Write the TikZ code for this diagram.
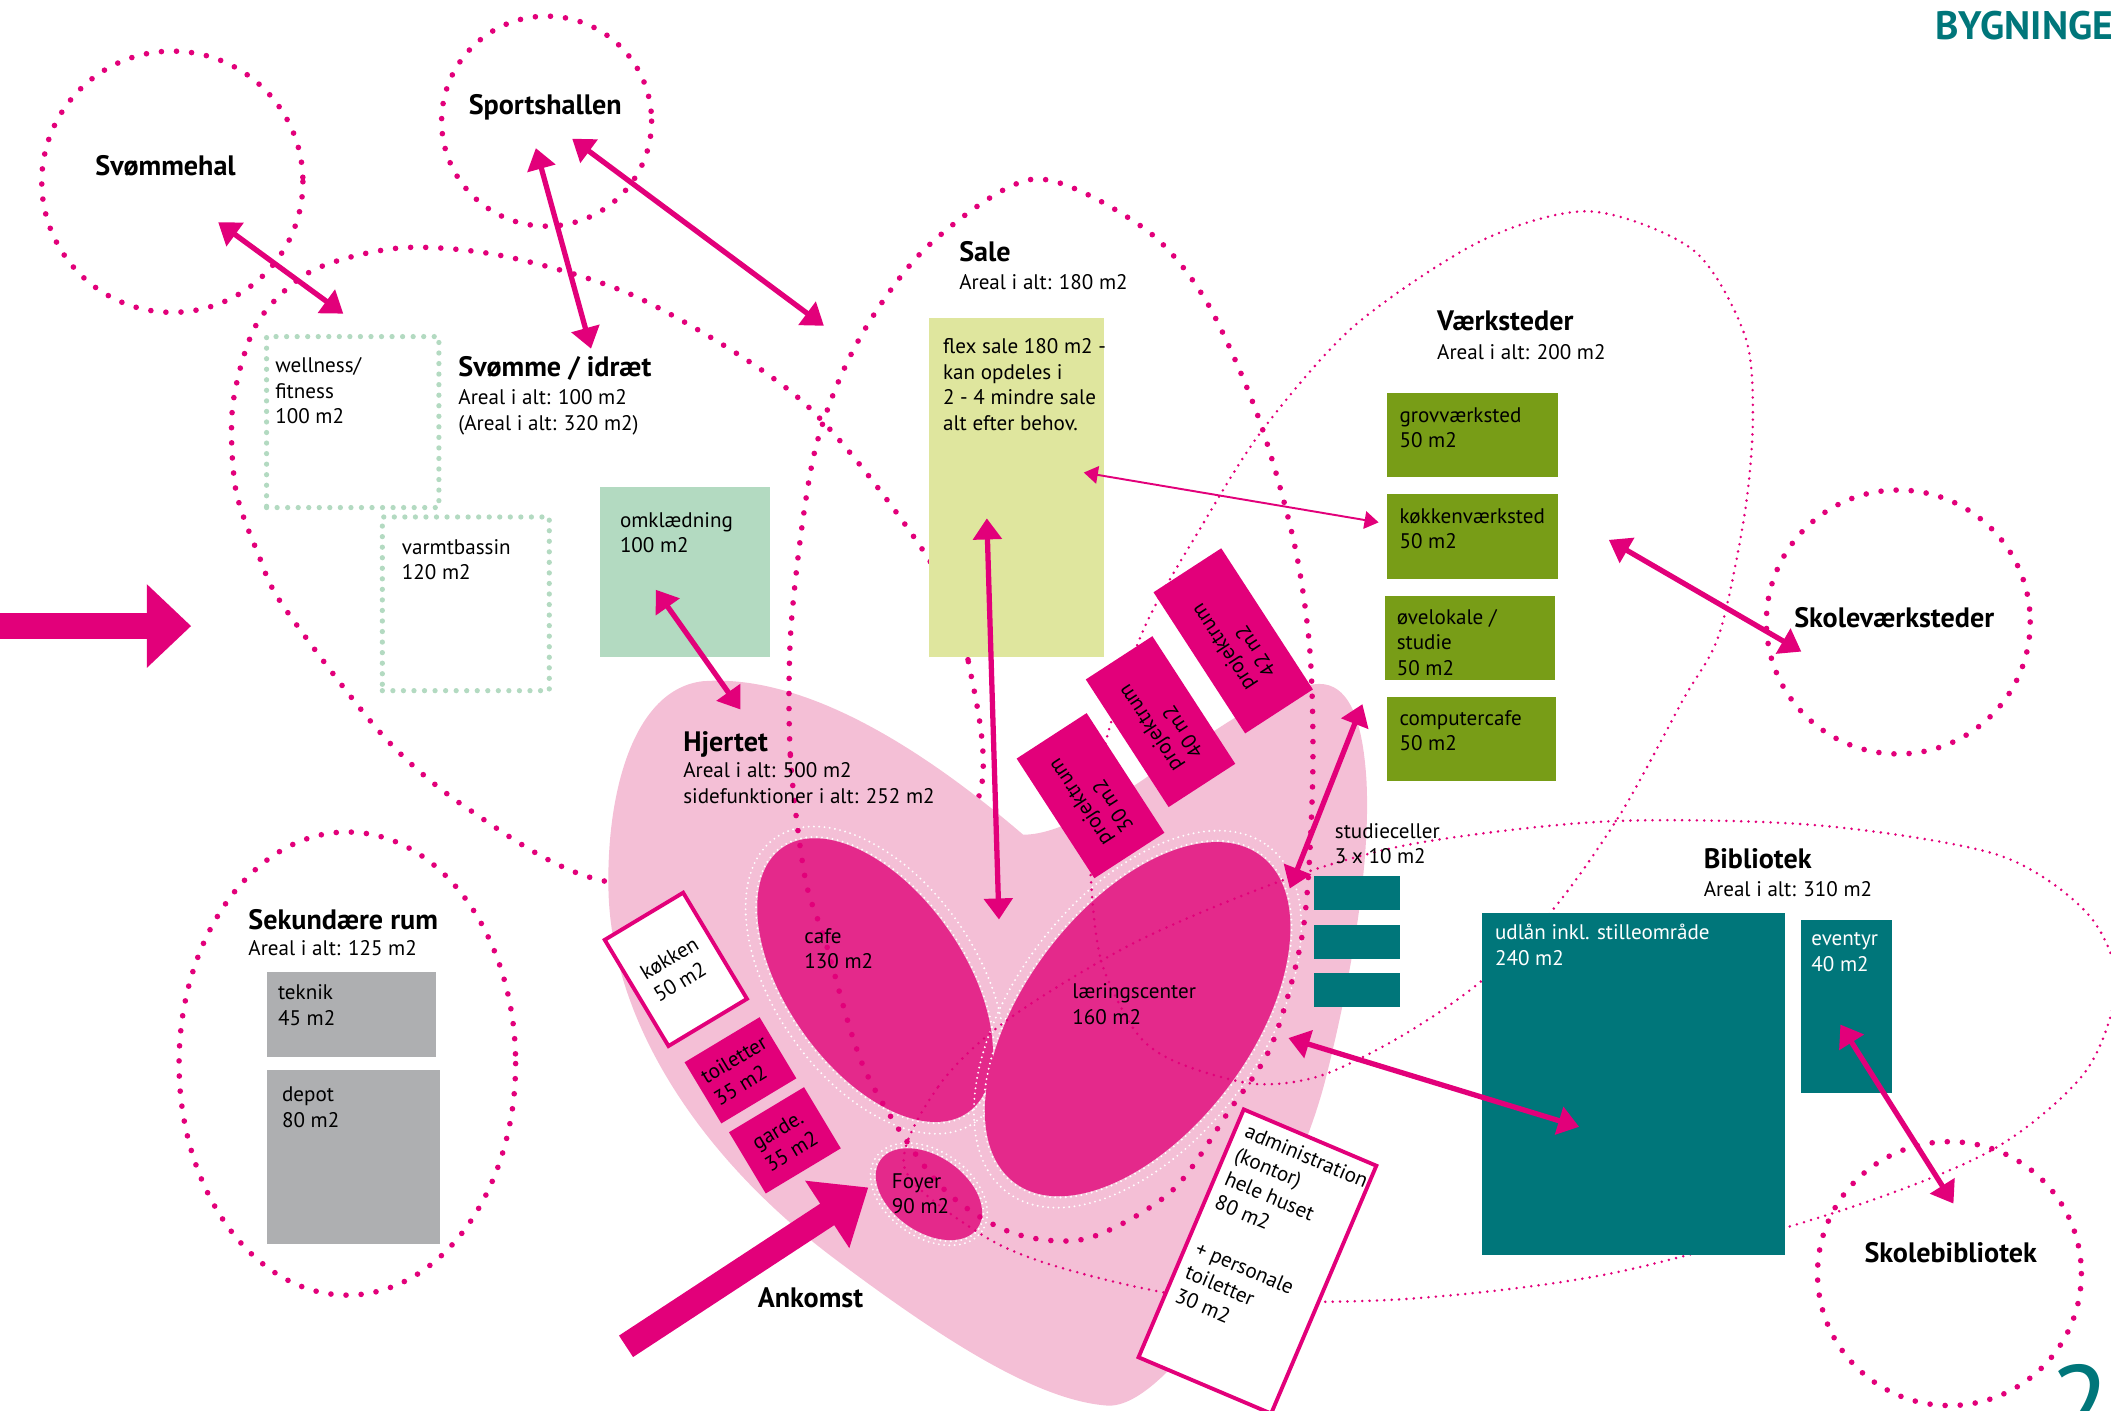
\documentclass[tikz,border=0pt]{standalone}
\usepackage{fontspec}
\setmainfont{PT Sans}
\usetikzlibrary{arrows.meta}

\definecolor{mag}{HTML}{E2007A}
\definecolor{heartpink}{HTML}{F4BFD6}
\definecolor{lobe}{HTML}{E4298B}
\definecolor{petrol}{HTML}{00767A}
\definecolor{moss}{HTML}{789D17}
\definecolor{sage}{HTML}{B3DAC1}
\definecolor{lime}{HTML}{DFE69E}
\definecolor{stone}{HTML}{AEAFB1}

\newcommand\txtsmall{\fontsize{6}{7.3}\selectfont}
\newcommand\txthead{\fontsize{8}{9.6}\selectfont\bfseries}
\newcommand\unitpx{0.13463mm}

\tikzset{
  bigdots/.style={draw=mag, line width=1.6pt, line cap=round, dash pattern=on 0pt off 4.3pt},
  smalldots/.style={draw=mag, line width=0.8pt, line cap=round, dash pattern=on 0pt off 2.1pt},
  whitedots/.style={draw=white, line width=0.6pt, line cap=round, dash pattern=on 0pt off 1.5pt},
  greendots/.style={draw=sage, line width=1.5pt, line cap=round, dash pattern=on 0pt off 3pt},
  room/.style={anchor=north west, inner sep=0pt, outer sep=0pt},
  slab/.style={inner sep=0pt, outer sep=0pt, align=left, font=\txtsmall},
  txt/.style={anchor=north west, inner sep=0pt, align=left, font=\txtsmall},
  head/.style={anchor=north west, inner sep=0pt, font=\txthead},
  place/.style={anchor=base, inner sep=0pt, font=\txthead},
  link/.style={draw=mag, line width=1.5pt, arrows={Triangle[length=6pt,width=8pt]-Triangle[length=6pt,width=8pt]}},
  thinlink/.style={draw=mag, line width=0.55pt, arrows={Triangle[length=4pt,width=5pt]-Triangle[length=4pt,width=5pt]}}
}

\begin{document}
\begin{tikzpicture}[x=\unitpx, y=-\unitpx]
  \useasboundingbox (0,0) rectangle (1568,1048);

  % zones behind the heart
  \draw[bigdots] plot[smooth cycle] coordinates {
    (723,600) (719,490) (689,414) (597,299) (478,223) (378,191) (299,184)
    (232,201) (191,240) (173,300) (175,363) (192,412) (211,451) (285,547)
    (348,601) (443,653) (600,665)};
  \draw[bigdots] (128,135) circle [radius=97];
  \draw[bigdots] (406,90) circle [radius=78];
  \draw[bigdots] (1410,462) circle [radius=98];
  \draw[bigdots] (1448,946) circle [radius=98];
  \draw[bigdots] (258,790) ellipse [x radius=125, y radius=172];

  % the heart
  \fill[heartpink] (760,620)
    .. controls (690,560) and (600,500) .. (522,506)
    .. controls (470,512) and (450,590) .. (452,663)
    .. controls (455,760) and (520,860) .. (620,935)
    .. controls (700,995) and (770,1040) .. (822,1044)
    .. controls (870,1048) and (960,900) .. (985,800)
    .. controls (1005,720) and (1018,640) .. (1015,580)
    .. controls (1012,530) and (1000,508) .. (980,508)
    .. controls (920,510) and (820,620) .. (760,620) -- cycle;

  \fill[lobe, rotate around={-55:(650,728)}] (650,728) ellipse [x radius=120, y radius=66];
  \draw[whitedots, rotate around={-55:(650,728)}] (650,728) ellipse [x radius=121, y radius=67];
  \draw[whitedots, rotate around={-55:(650,728)}] (650,728) ellipse [x radius=129, y radius=75];
  \fill[lobe, rotate around={53:(845,757)}] (845,757) ellipse [x radius=152, y radius=84];
  \draw[whitedots, rotate around={53:(845,757)}] (845,757) ellipse [x radius=153, y radius=85];
  \draw[whitedots, rotate around={53:(845,757)}] (845,757) ellipse [x radius=161, y radius=92];
  \fill[lobe, rotate around={-35:(690,887)}] (690,887) ellipse [x radius=44, y radius=28];
  \draw[whitedots, rotate around={-35:(690,887)}] (690,887) ellipse [x radius=45, y radius=29];
  \draw[whitedots, rotate around={-35:(690,887)}] (690,887) ellipse [x radius=48, y radius=32];

  % zones over the heart
  \draw[bigdots] plot[smooth cycle] coordinates {
    (598,652) (587,560) (588,460) (605,336) (637,254) (689,183) (768,133)
    (849,169) (895,222) (934,308) (961,402) (973,484) (975,580) (968,690)
    (945,775) (913,825) (870,885) (807,920) (750,915) (697,879) (643,796)
    (613,699)};
  \draw[smalldots] plot[smooth cycle] coordinates {
    (810,648) (818,714) (844,767) (874,789) (931,805) (981,799) (1042,769)
    (1100,729) (1154,675) (1204,604) (1250,520) (1277,471) (1296,381)
    (1302,310) (1296,249) (1258,186) (1181,157) (1100,179) (1006,242)
    (938,319) (893,390) (851,464) (824,541) (812,600)};
  \draw[smalldots] plot[smooth cycle] coordinates {
    (672,868) (697,807) (749,757) (845,699) (958,652) (1054,626) (1196,610)
    (1350,613) (1484,635) (1550,678) (1572,730) (1549,796) (1480,854)
    (1365,900) (1196,946) (1042,965) (900,965) (800,945) (734,920)};

  % rooms
  \node[room, greendots, minimum width=128*\unitpx, minimum height=127*\unitpx] (wellness) at (198,250) {};
  \node[room, greendots, minimum width=124*\unitpx, minimum height=129*\unitpx] (varmt) at (284,384) {};
  \node[room, fill=sage, minimum width=126*\unitpx, minimum height=126*\unitpx] (omkl) at (446,362) {};
  \node[room, fill=lime, minimum width=130*\unitpx, minimum height=252*\unitpx] (flex) at (690,236) {};
  \node[room, fill=moss, minimum width=127*\unitpx, minimum height=62*\unitpx] (grov) at (1030,292) {};
  \node[room, fill=moss, minimum width=127*\unitpx, minimum height=63*\unitpx] (kvaerk) at (1030,367) {};
  \node[room, fill=moss, minimum width=126*\unitpx, minimum height=62*\unitpx] (ovelok) at (1029,443) {};
  \node[room, fill=moss, minimum width=126*\unitpx, minimum height=62*\unitpx] (compcafe) at (1030,518) {};
  \node[room, fill=petrol, minimum width=64*\unitpx, minimum height=25*\unitpx] (celle1) at (976,651) {};
  \node[room, fill=petrol, minimum width=64*\unitpx, minimum height=25*\unitpx] (celle2) at (976,687) {};
  \node[room, fill=petrol, minimum width=64*\unitpx, minimum height=25*\unitpx] (celle3) at (976,723) {};
  \node[room, fill=petrol, minimum width=225*\unitpx, minimum height=254*\unitpx] (udlan) at (1101,678) {};
  \node[room, fill=petrol, minimum width=67*\unitpx, minimum height=129*\unitpx] (eventyr) at (1338,683) {};
  \node[room, fill=stone, minimum width=126*\unitpx, minimum height=63*\unitpx] (teknik) at (198,722) {};
  \node[room, fill=stone, minimum width=129*\unitpx, minimum height=129*\unitpx] (depot) at (198,795) {};

  \node[slab, fill=mag, rotate=123, minimum width=125*\unitpx, minimum height=60*\unitpx] (proj42) at (916,476) {projektrum\\42 m2};
  \node[slab, fill=mag, rotate=123, minimum width=113*\unitpx, minimum height=59*\unitpx] (proj40) at (862,536) {projektrum\\40 m2};
  \node[slab, fill=mag, rotate=123, minimum width=106*\unitpx, minimum height=62*\unitpx] (proj30) at (810,591) {projektrum\\30 m2};
  \node[slab, fill=white, draw=mag, line width=1.1pt, rotate=31, minimum width=68*\unitpx, minimum height=92*\unitpx] (kokken) at (502,720) {køkken\\50 m2};
  \node[slab, fill=mag, rotate=31, minimum width=65*\unitpx, minimum height=53*\unitpx] (toilet) at (550,795) {toiletter\\35 m2};
  \node[slab, fill=mag, rotate=31, minimum width=65*\unitpx, minimum height=53*\unitpx] (garde) at (583,847) {garde.\\35 m2};
  \node[slab, fill=white, draw=mag, line width=1.1pt, rotate=-23, minimum width=107*\unitpx, minimum height=200*\unitpx] (admin) at (934,937) {};
  \node[slab, rotate=-23, anchor=north west, inner sep=3pt] (admintxt) at (admin.north west)
    {administration\\(kontor)\\hele huset\\80 m2\\[7pt]+ personale\\toiletter\\30 m2};

  % texts
  \node[txt] (wellnesstxt) at (204,265) {wellness/\\fitness\\100 m2};
  \node[txt] (varmttxt) at (298,400) {varmtbassin\\120 m2};
  \node[txt] (omkltxt) at (460,380) {omklædning\\100 m2};
  \node[txt] (flextxt) at (700,251) {flex sale 180 m2 -\\kan opdeles i\\2 - 4 mindre sale\\alt efter behov.};
  \node[txt] (grovtxt) at (1039,302) {grovværksted\\50 m2};
  \node[txt] (kvaerktxt) at (1039,377) {køkkenværksted\\50 m2};
  \node[txt] (oveloktxt) at (1037,452) {øvelokale /\\studie\\50 m2};
  \node[txt] (compcafetxt) at (1039,527) {computercafe\\50 m2};
  \node[txt] (celletxt) at (991,611) {studieceller\\3 x 10 m2};
  \node[txt, text=white] (udlantxt) at (1110,686) {udlån inkl. stilleområde\\240 m2};
  \node[txt, text=white] (eventyrtxt) at (1345,692) {eventyr\\40 m2};
  \node[txt] (tekniktxt) at (206,731) {teknik\\45 m2};
  \node[txt] (depottxt) at (209,807) {depot\\80 m2};
  \node[txt] (cafetxt) at (597,689) {cafe\\130 m2};
  \node[txt] (laeringtxt) at (796,730) {læringscenter\\160 m2};
  \node[txt] (foyertxt) at (662,871) {Foyer\\90 m2};

  \node[head] (idraet) at (340,264) {Svømme / idræt};
  \node[txt] (idraetareal) at (340,289) {Areal i alt: 100 m2\\(Areal i alt: 320 m2)};
  \node[head] (sale) at (712,179) {Sale};
  \node[txt] (saleareal) at (712,203) {Areal i alt: 180 m2};
  \node[head] (vaerksteder) at (1067,230) {Værksteder};
  \node[txt] (vaerkstederareal) at (1067,255) {Areal i alt: 200 m2};
  \node[head] (hjertet) at (507,543) {Hjertet};
  \node[txt] (hjertetareal) at (507,566) {Areal i alt: 500 m2\\sidefunktioner i alt: 252 m2};
  \node[head] (sekundaer) at (184,675) {Sekundære rum};
  \node[txt] (sekundaerareal) at (184,698) {Areal i alt: 125 m2};
  \node[head] (bibliotek) at (1265,630) {Bibliotek};
  \node[txt] (bibliotekareal) at (1265,654) {Areal i alt: 310 m2};

  \node[place] (svommehal) at (123,130) {Svømmehal};
  \node[place] (sportshallen) at (405,85) {Sportshallen};
  \node[place] (skolevaerk) at (1407,466) {Skoleværksteder};
  \node[place] (skolebib) at (1449,938) {Skolebibliotek};
  \node[place] (ankomst) at (602,971) {Ankomst};
  \node[anchor=base west, inner sep=0pt, text=petrol, font=\fontsize{11.3}{13}\selectfont\bfseries] (titel) at (1437,29) {BYGNINGEN};
  \node[anchor=base west, inner sep=0pt, text=petrol, font=\fontsize{32}{36}\selectfont] (side) at (1522,1073) {25};

  % arrows
  \coordinate (svh) at (162,165);   \coordinate (wel) at (255,233);
  \coordinate (sph) at (398,110);   \coordinate (idr) at (439,259);
  \coordinate (sph2) at (425,103);  \coordinate (sal) at (612,242);
  \coordinate (omk) at (487,438);   \coordinate (hje) at (550,527);
  \coordinate (flx) at (733,385);   \coordinate (hje2) at (742,683);
  \coordinate (flx2) at (805,351);  \coordinate (kvk) at (1024,388);
  \coordinate (vrk) at (1195,401);  \coordinate (skv) at (1338,484);
  \coordinate (cpc) at (1012,523);  \coordinate (lrc) at (958,660);
  \coordinate (lrc2) at (957,771);  \coordinate (udl) at (1173,837);
  \coordinate (evt) at (1367,761);  \coordinate (skb) at (1451,894);
  \coordinate (ank) at (465,1000);  \coordinate (foy) at (645,882);
  \coordinate (ind) at (-10,465);   \coordinate (bld) at (142,465);

  \draw[link] (svh) -- (wel);
  \draw[link] (sph) -- (idr);
  \draw[link] (sph2) -- (sal);
  \draw[link] (omk) -- (hje);
  \draw[link] (flx) -- (hje2);
  \draw[thinlink] (flx2) -- (kvk);
  \draw[link] (vrk) -- (skv);
  \draw[link] (cpc) -- (lrc);
  \draw[link] (lrc2) -- (udl);
  \draw[link] (evt) -- (skb);
  \draw[draw=mag, line width=7.3pt, arrows={-Triangle[length=14pt,width=22pt]}] (ank) -- (foy);
  \draw[draw=mag, line width=7.6pt, arrows={-Triangle[length=12.6pt,width=23pt]}] (ind) -- (bld);
\end{tikzpicture}
\end{document}
